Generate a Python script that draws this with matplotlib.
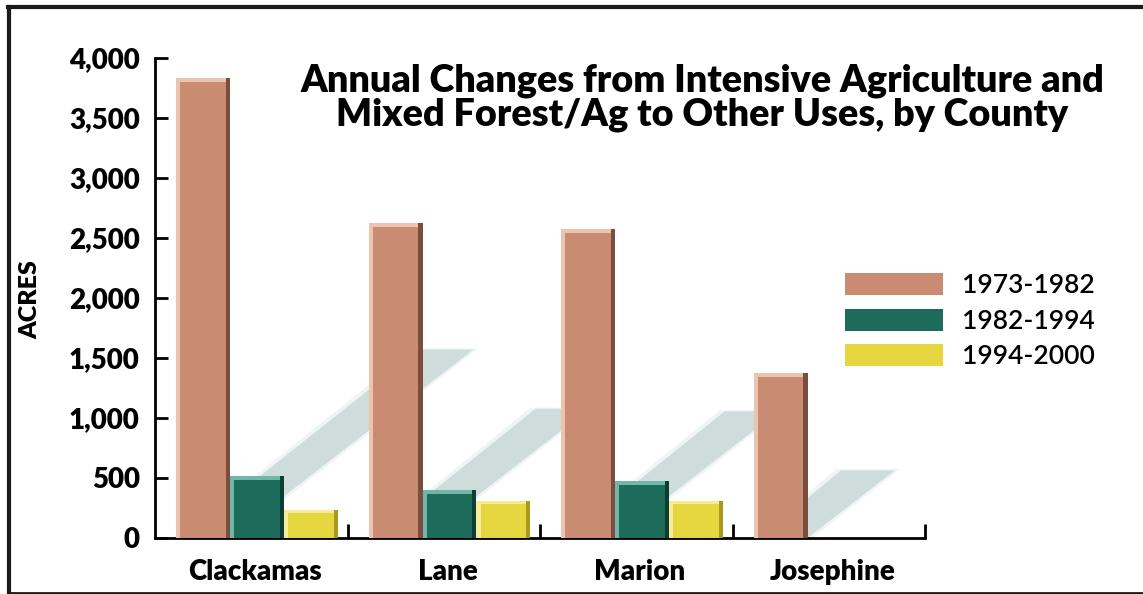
import numpy as np
import matplotlib.pyplot as plt
from matplotlib.patches import Polygon
from matplotlib.lines import Line2D

# Annual acres converted, per county and period
counties = ['Clackamas', 'Lane', 'Marion', 'Josephine']
periods = ['1973-1982', '1982-1994', '1994-2000']
acres_1973_1982 = [3830, 2625, 2575, 1375]
acres_1982_1994 = [515, 400, 475, 0]
acres_1994_2000 = [235, 310, 310, 0]
y_ticks = [0, 500, 1000, 1500, 2000, 2500, 3000, 3500, 4000]
y_tick_labels = ['0', '500', '1,000', '1,500', '2,000', '2,500', '3,000', '3,500', '4,000']

series = [acres_1973_1982, acres_1982_1994, acres_1994_2000]
colors = ['#C98B72', '#1C6B5B', '#E6D640']
edge_dark = ['#7A4E3E', '#0E3D33', '#A89A1C']
edge_light = ['#EBC3AE', '#6FB8A8', '#F6EC98']

plt.rcParams['font.family'] = ['Lato', 'DejaVu Sans']

fig = plt.figure(figsize=(11.43, 5.94), dpi=100)
ax = fig.add_axes([155 / 1143, 56 / 594, 770 / 1143, 480 / 594])

bar_w = 0.28
first = 0.11
x = np.arange(len(counties))

# soft drop shadows cast by the tall bars, scaled from the bar heights
shadow_run = 3.3e-4
shadow_rise = 0.41
for i, v in enumerate(acres_1973_1982):
    x0 = x[i] + first
    x1 = x0 + bar_w
    dx = v * shadow_run
    top = v * shadow_rise
    for grow, a in [(0.025, 0.25), (0.0, 0.75)]:
        poly = Polygon([(x0 + 0.03 - grow, 0), (x1 + grow, 0),
                        (x1 + dx + grow, top + grow * 400), (x0 + dx - grow, top + grow * 400)],
                       closed=True, facecolor='#C3D6D5', edgecolor='none',
                       alpha=a, zorder=1)
        ax.add_patch(poly)

strip = 0.022
handles = []
for k, vals in enumerate(series):
    xs = x + first + k * bar_w
    vals = np.array(vals, dtype=float)
    b = ax.bar(xs, vals, width=bar_w, align='edge', color=colors[k],
               edgecolor='none', zorder=3, label=periods[k])
    handles.append(b)
    # bevelled edges
    ax.bar(xs, vals, width=strip, align='edge', color=edge_light[k],
           edgecolor='none', zorder=4)
    ax.bar(xs + bar_w - strip, vals, width=strip, align='edge',
           color=edge_dark[k], edgecolor='none', zorder=4)
    ax.bar(xs, np.minimum(vals, 30), bottom=np.maximum(vals - 30, 0),
           width=bar_w - strip, align='edge', color=edge_light[k],
           edgecolor='none', zorder=4)

ax.set_xlim(0, len(counties))
ax.set_ylim(0, 4000)

ax.set_yticks(y_ticks)
ax.set_yticklabels(y_tick_labels, fontsize=20, fontweight='heavy')
ax.set_xticks(x + 1)
ax.set_xticklabels([])
ax.set_xticks(x + 0.52, minor=True)
ax.set_xticklabels(counties, minor=True, fontsize=20, fontweight='heavy')

ax.tick_params(axis='y', direction='in', length=9, width=2, pad=11)
ax.tick_params(axis='x', which='major', direction='in', length=10, width=2)
ax.tick_params(axis='x', which='minor', length=0, pad=15)

for s in ['top', 'right']:
    ax.spines[s].set_visible(False)
for s in ['left', 'bottom']:
    ax.spines[s].set_linewidth(2)

fig.text(30 / 1143, 1 - 300 / 594, 'ACRES', rotation=90, ha='center',
         va='center', fontsize=18, fontweight='heavy')

fig.text(702 / 1143, 1 - 98 / 594,
         'Annual Changes from Intensive Agriculture and\nMixed Forest/Ag to Other Uses, by County',
         ha='center', va='center', fontsize=27.2, fontweight='heavy',
         linespacing=1.0)

leg = fig.legend(handles=handles, labels=periods, loc='upper left',
                 bbox_to_anchor=(845 / 1143, 1 - 273 / 594), frameon=False,
                 prop={'size': 19, 'weight': 'semibold'},
                 handlelength=3.7, handleheight=0.9,
                 handletextpad=0.75, labelspacing=0.4, borderpad=0,
                 borderaxespad=0)

# outer frame
fig.add_artist(Line2D([9 / 1143, 9 / 1143], [0, 1 - 7 / 594],
                      transform=fig.transFigure, color='#1a1a1a', lw=3))
fig.add_artist(Line2D([7.5 / 1143, 1], [1 - 7 / 594, 1 - 7 / 594],
                      transform=fig.transFigure, color='#1a1a1a', lw=3))
fig.add_artist(Line2D([9 / 1143, 1], [1 / 594, 1 / 594],
                      transform=fig.transFigure, color='#1a1a1a', lw=2))

fig.savefig('out.png', dpi=100)
